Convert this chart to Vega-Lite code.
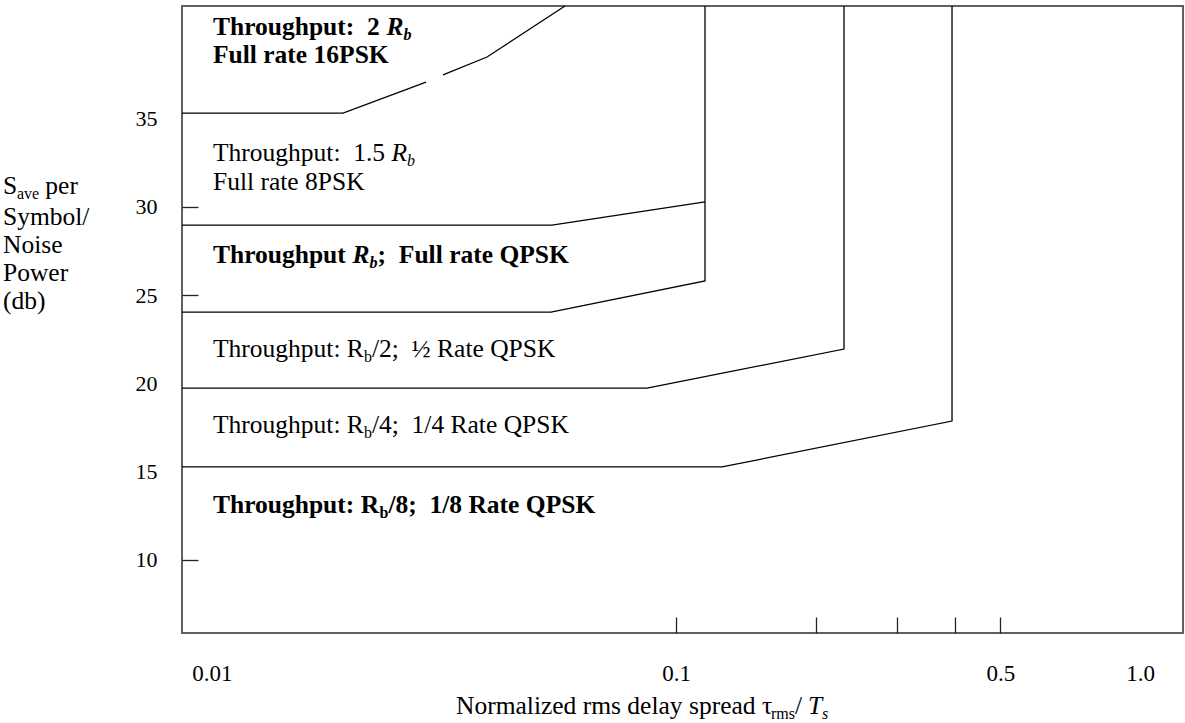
{
  "$schema": "https://vega.github.io/schema/vega-lite/v6.json",
  "width": 1001,
  "height": 627,
  "autosize": {"type": "none"},
  "padding": {"left": 182, "top": 6, "right": 2, "bottom": 90},
  "background": "white",
  "config": {
    "view": {"stroke": "#5f5f5f", "strokeWidth": 2},
    "font": "Liberation Serif"
  },
  "datasets": {
    "boundaries": [
      {"boundary": "16PSK | 8PSK (lower part)", "pt": 1, "tau": 0.008617, "snr": 35.32},
      {"boundary": "16PSK | 8PSK (lower part)", "pt": 2, "tau": 0.019159, "snr": 35.32},
      {"boundary": "16PSK | 8PSK (lower part)", "pt": 3, "tau": 0.028926, "snr": 37.08},
      {"boundary": "16PSK | 8PSK (upper part)", "pt": 1, "tau": 0.031466, "snr": 37.48},
      {"boundary": "16PSK | 8PSK (upper part)", "pt": 2, "tau": 0.039147, "snr": 38.5},
      {"boundary": "16PSK | 8PSK (upper part)", "pt": 3, "tau": 0.057645, "snr": 41.39},
      {"boundary": "8PSK | QPSK", "pt": 1, "tau": 0.008617, "snr": 28.97},
      {"boundary": "8PSK | QPSK", "pt": 2, "tau": 0.054036, "snr": 28.97},
      {"boundary": "8PSK | QPSK", "pt": 3, "tau": 0.11548, "snr": 30.28},
      {"boundary": "QPSK | 1/2 QPSK", "pt": 1, "tau": 0.008617, "snr": 24.04},
      {"boundary": "QPSK | 1/2 QPSK", "pt": 2, "tau": 0.053768, "snr": 24.04},
      {"boundary": "QPSK | 1/2 QPSK", "pt": 3, "tau": 0.11548, "snr": 25.8},
      {"boundary": "QPSK | 1/2 QPSK", "pt": 4, "tau": 0.11548, "snr": 41.39},
      {"boundary": "1/2 QPSK | 1/4 QPSK", "pt": 1, "tau": 0.008617, "snr": 19.73},
      {"boundary": "1/2 QPSK | 1/4 QPSK", "pt": 2, "tau": 0.086596, "snr": 19.73},
      {"boundary": "1/2 QPSK | 1/4 QPSK", "pt": 3, "tau": 0.23018, "snr": 21.94},
      {"boundary": "1/2 QPSK | 1/4 QPSK", "pt": 4, "tau": 0.23018, "snr": 41.39},
      {"boundary": "1/4 QPSK | 1/8 QPSK", "pt": 1, "tau": 0.008617, "snr": 15.26},
      {"boundary": "1/4 QPSK | 1/8 QPSK", "pt": 2, "tau": 0.12565, "snr": 15.26},
      {"boundary": "1/4 QPSK | 1/8 QPSK", "pt": 3, "tau": 0.39342, "snr": 17.86},
      {"boundary": "1/4 QPSK | 1/8 QPSK", "pt": 4, "tau": 0.39342, "snr": 41.39}
    ],
    "labels": [
      {"region": "16PSK", "piece": "text", "text": "Throughput:\u00a0 2", "tau": 0.01005, "snr": 39.74},
      {"region": "16PSK", "piece": "symbol", "text": "R", "tau": 0.023784, "snr": 39.74},
      {"region": "16PSK", "piece": "symbol subscript", "text": "b", "tau": 0.025881, "snr": 39.74},
      {"region": "16PSK", "piece": "text", "text": "Full rate 16PSK", "tau": 0.01005, "snr": 38.16},
      {"region": "8PSK", "piece": "text", "text": "Throughput:\u00a0 1.5", "tau": 0.01005, "snr": 32.6},
      {"region": "8PSK", "piece": "symbol", "text": "R", "tau": 0.024369, "snr": 32.6},
      {"region": "8PSK", "piece": "symbol subscript", "text": "b", "tau": 0.026334, "snr": 32.6},
      {"region": "8PSK", "piece": "text", "text": "Full rate 8PSK", "tau": 0.01005, "snr": 30.95},
      {"region": "QPSK", "piece": "text", "text": "Throughput", "tau": 0.01005, "snr": 26.82},
      {"region": "QPSK", "piece": "symbol", "text": "R", "tau": 0.020092, "snr": 26.82},
      {"region": "QPSK", "piece": "symbol subscript", "text": "b", "tau": 0.021862, "snr": 26.82},
      {"region": "QPSK", "piece": "text", "text": ";\u00a0 Full rate QPSK", "tau": 0.022748, "snr": 26.82},
      {"region": "1/2 QPSK", "piece": "text", "text": "Throughput: R", "tau": 0.01005, "snr": 21.49},
      {"region": "1/2 QPSK", "piece": "subscript", "text": "b", "tau": 0.021252, "snr": 21.49},
      {"region": "1/2 QPSK", "piece": "text", "text": "/2;\u00a0 \u00bd Rate QPSK", "tau": 0.022112, "snr": 21.49},
      {"region": "1/4 QPSK", "piece": "text", "text": "Throughput: R", "tau": 0.01005, "snr": 17.18},
      {"region": "1/4 QPSK", "piece": "subscript", "text": "b", "tau": 0.021252, "snr": 17.18},
      {"region": "1/4 QPSK", "piece": "text", "text": "/4;\u00a0 1/4 Rate QPSK", "tau": 0.022112, "snr": 17.18},
      {"region": "1/8 QPSK", "piece": "text", "text": "Throughput: R", "tau": 0.01005, "snr": 12.65},
      {"region": "1/8 QPSK", "piece": "subscript", "text": "b", "tau": 0.022961, "snr": 12.65},
      {"region": "1/8 QPSK", "piece": "text", "text": "/8;\u00a0 1/8 Rate QPSK", "tau": 0.024, "snr": 12.65},
      {"region": "y title", "piece": "text", "text": "S", "tau": 0.0035442, "snr": 30.73},
      {"region": "y title", "piece": "subscript", "text": "ave", "tau": 0.003798, "snr": 30.73},
      {"region": "y title", "piece": "text", "text": "per", "tau": 0.0043742, "snr": 30.73},
      {"region": "y title", "piece": "text", "text": "Symbol/", "tau": 0.0035442, "snr": 28.97},
      {"region": "y title", "piece": "text", "text": "Noise", "tau": 0.0035442, "snr": 27.39},
      {"region": "y title", "piece": "text", "text": "Power", "tau": 0.0035442, "snr": 25.8},
      {"region": "y title", "piece": "text", "text": "(db)", "tau": 0.0035442, "snr": 24.21},
      {"region": "x title", "piece": "text", "text": "Normalized rms delay spread \u03c4", "tau": 0.033563, "snr": 1.253},
      {"region": "x title", "piece": "subscript", "text": "rms", "tau": 0.16015, "snr": 1.253},
      {"region": "x title", "piece": "text", "text": "/", "tau": 0.1804, "snr": 1.253},
      {"region": "x title", "piece": "symbol", "text": "T", "tau": 0.19261, "snr": 1.253},
      {"region": "x title", "piece": "symbol subscript", "text": "s", "tau": 0.20637, "snr": 1.253}
    ]
  },
  "layer": [
    {
      "data": {"name": "boundaries"},
      "mark": {"type": "line", "color": "black", "strokeWidth": 1.3},
      "encoding": {
        "x": {
          "field": "tau", "type": "quantitative",
          "scale": {"type": "log", "domain": [0.008617, 1.2378], "nice": false},
          "axis": {
            "orient": "bottom", "values": [0.01, 0.1, 0.5, 1],
            "labelExpr": "datum.value >= 1 ? '1.0' : '' + datum.value",
            "ticks": false, "tickSize": 0, "domain": false, "grid": false,
            "labelPadding": 47, "labelBaseline": "alphabetic",
            "labelFont": "Liberation Serif", "labelFontSize": 23, "labelColor": "black",
            "labelFlush": false, "labelOverlap": false, "title": null
          }
        },
        "y": {
          "field": "snr", "type": "quantitative",
          "scale": {"domain": [5.845, 41.39], "nice": false, "zero": false},
          "axis": {
            "orient": "left", "values": [10, 15, 20, 25, 30, 35],
            "ticks": false, "tickSize": 0, "domain": false, "grid": false,
            "labelPadding": 25, "labelFont": "Liberation Serif", "labelFontSize": 22,
            "labelColor": "black", "labelFlush": false, "labelOverlap": false, "title": null
          }
        },
        "detail": {"field": "boundary"},
        "order": {"field": "pt", "type": "quantitative"}
      }
    },
    {
      "data": {"name": "labels"},
      "transform": [{"filter": "datum.piece == 'text' && indexof(['16PSK','QPSK','1/8 QPSK'], datum.region) < 0"}],
      "mark": {"type": "text", "align": "left", "baseline": "alphabetic", "font": "Liberation Serif", "fontSize": 25.5, "fontWeight": "normal", "fontStyle": "normal", "fill": "black"},
      "encoding": {
        "x": {
          "field": "tau", "type": "quantitative",
          "scale": {"type": "log", "domain": [0.008617, 1.2378], "nice": false},
          "axis": {
            "orient": "bottom", "values": [0.1, 0.2, 0.3, 0.4, 0.5],
            "labels": false, "domain": false, "grid": false, "ticks": true,
            "tickSize": -16, "tickColor": "#222", "tickWidth": 1.3, "title": null
          }
        },
        "y": {
          "field": "snr", "type": "quantitative",
          "scale": {"domain": [5.845, 41.39], "nice": false, "zero": false},
          "axis": {
            "orient": "left", "values": [10, 25, 30],
            "labels": false, "domain": false, "grid": false, "ticks": true,
            "tickSize": -16, "tickColor": "#222", "tickWidth": 1.3, "title": null
          }
        },
        "text": {"field": "text"}
      }
    },
    {
      "data": {"name": "labels"},
      "transform": [{"filter": "datum.piece == 'text' && indexof(['16PSK','QPSK','1/8 QPSK'], datum.region) >= 0"}],
      "mark": {"type": "text", "align": "left", "baseline": "alphabetic", "font": "Liberation Serif", "fontSize": 25.5, "fontWeight": "bold", "fontStyle": "normal", "fill": "black"},
      "encoding": {
        "x": {"field": "tau", "type": "quantitative", "axis": null},
        "y": {"field": "snr", "type": "quantitative", "axis": null},
        "text": {"field": "text"}
      }
    },
    {
      "data": {"name": "labels"},
      "transform": [{"filter": "datum.piece == 'symbol' && indexof(['16PSK','QPSK','1/8 QPSK'], datum.region) < 0"}],
      "mark": {"type": "text", "align": "left", "baseline": "alphabetic", "font": "Liberation Serif", "fontSize": 25.5, "fontWeight": "normal", "fontStyle": "italic", "fill": "black"},
      "encoding": {
        "x": {"field": "tau", "type": "quantitative", "axis": null},
        "y": {"field": "snr", "type": "quantitative", "axis": null},
        "text": {"field": "text"}
      }
    },
    {
      "data": {"name": "labels"},
      "transform": [{"filter": "datum.piece == 'symbol' && indexof(['16PSK','QPSK','1/8 QPSK'], datum.region) >= 0"}],
      "mark": {"type": "text", "align": "left", "baseline": "alphabetic", "font": "Liberation Serif", "fontSize": 25.5, "fontWeight": "bold", "fontStyle": "italic", "fill": "black"},
      "encoding": {
        "x": {"field": "tau", "type": "quantitative", "axis": null},
        "y": {"field": "snr", "type": "quantitative", "axis": null},
        "text": {"field": "text"}
      }
    },
    {
      "data": {"name": "labels"},
      "transform": [{"filter": "datum.piece == 'subscript' && indexof(['16PSK','QPSK','1/8 QPSK'], datum.region) < 0"}],
      "mark": {"type": "text", "align": "left", "baseline": "alphabetic", "dy": 5, "font": "Liberation Serif", "fontSize": 16, "fontWeight": "normal", "fontStyle": "normal", "fill": "black"},
      "encoding": {
        "x": {"field": "tau", "type": "quantitative", "axis": null},
        "y": {"field": "snr", "type": "quantitative", "axis": null},
        "text": {"field": "text"}
      }
    },
    {
      "data": {"name": "labels"},
      "transform": [{"filter": "datum.piece == 'subscript' && indexof(['16PSK','QPSK','1/8 QPSK'], datum.region) >= 0"}],
      "mark": {"type": "text", "align": "left", "baseline": "alphabetic", "dy": 5, "font": "Liberation Serif", "fontSize": 16, "fontWeight": "bold", "fontStyle": "normal", "fill": "black"},
      "encoding": {
        "x": {"field": "tau", "type": "quantitative", "axis": null},
        "y": {"field": "snr", "type": "quantitative", "axis": null},
        "text": {"field": "text"}
      }
    },
    {
      "data": {"name": "labels"},
      "transform": [{"filter": "datum.piece == 'symbol subscript' && indexof(['16PSK','QPSK','1/8 QPSK'], datum.region) < 0"}],
      "mark": {"type": "text", "align": "left", "baseline": "alphabetic", "dy": 5, "font": "Liberation Serif", "fontSize": 16, "fontWeight": "normal", "fontStyle": "italic", "fill": "black"},
      "encoding": {
        "x": {"field": "tau", "type": "quantitative", "axis": null},
        "y": {"field": "snr", "type": "quantitative", "axis": null},
        "text": {"field": "text"}
      }
    },
    {
      "data": {"name": "labels"},
      "transform": [{"filter": "datum.piece == 'symbol subscript' && indexof(['16PSK','QPSK','1/8 QPSK'], datum.region) >= 0"}],
      "mark": {"type": "text", "align": "left", "baseline": "alphabetic", "dy": 5, "font": "Liberation Serif", "fontSize": 16, "fontWeight": "bold", "fontStyle": "italic", "fill": "black"},
      "encoding": {
        "x": {"field": "tau", "type": "quantitative", "axis": null},
        "y": {"field": "snr", "type": "quantitative", "axis": null},
        "text": {"field": "text"}
      }
    }
  ],
  "resolve": {"axis": {"x": "independent", "y": "independent"}}
}
